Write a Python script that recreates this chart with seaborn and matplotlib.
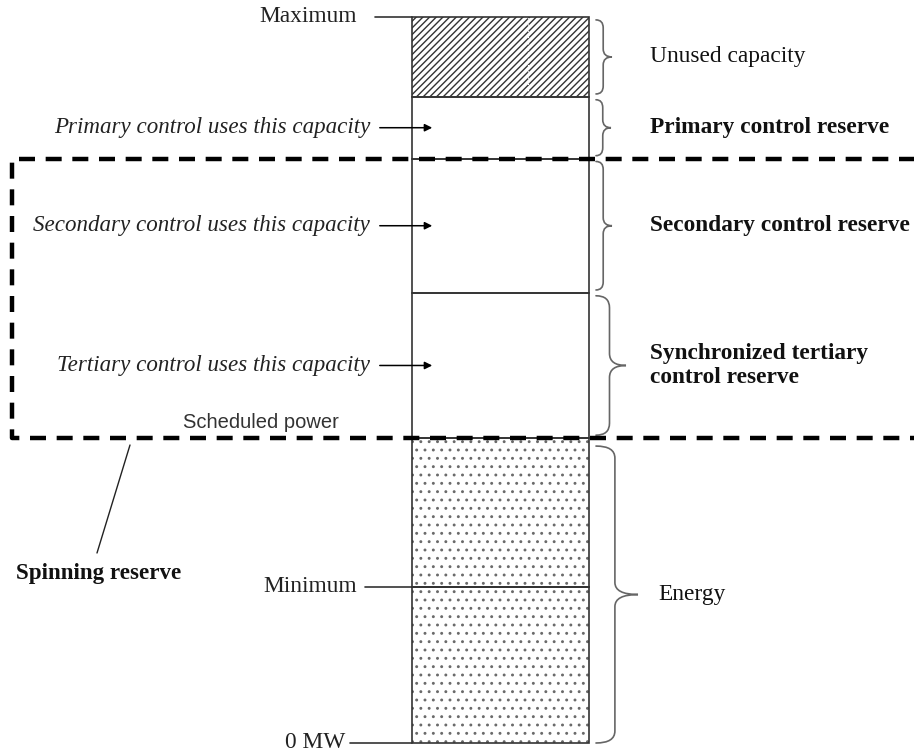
import matplotlib.pyplot as plt
import numpy as np
import seaborn as sns
from matplotlib.patches import PathPatch
from matplotlib.path import Path

# Generating unit capacity, stacked bottom -> top (% of maximum output)
segments = [
    "Energy (below minimum)",
    "Energy (above minimum)",
    "Synchronized tertiary control reserve",
    "Secondary control reserve",
    "Primary control reserve",
    "Unused capacity",
]
heights = [21.5, 20.5, 20.0, 18.5, 8.5, 11.0]
hatches = ["..", "..", "", "", "", "/////"]

# Text on the left of the column
use_labels = [
    "Tertiary control uses this capacity",
    "Secondary control uses this capacity",
    "Primary control uses this capacity",
]
level_labels = ["0 MW", "Minimum", "Maximum"]

# Braces on the right: (first segment, last segment, label, bold)
brace_groups = [
    (0, 1, "Energy", False),
    (2, 2, "Synchronized tertiary\ncontrol reserve", True),
    (3, 3, "Secondary control reserve", True),
    (4, 4, "Primary control reserve", True),
    (5, 5, "Unused capacity", False),
]

SERIF = ["Liberation Serif", "DejaVu Serif"]
SANS = ["Liberation Sans", "DejaVu Sans"]

# layout (x in pixels, y in % of max)
BAR_X, BAR_W = 500.5, 177
Y_PER_PX = 100 / 726
Y_LO = -9 * Y_PER_PX
Y_HI = 100 + 17 * Y_PER_PX


def px(y):
    return Y_HI - y * Y_PER_PX


def draw_brace(ax, x0, lo, hi, width, r_px=9):
    r = r_px * Y_PER_PX
    xm = x0 + width * 0.45
    xt = x0 + width
    mid = (lo + hi) / 2
    verts = [
        (x0, hi), (xm, hi), (xm, hi - r),
        (xm, mid + r),
        (xm, mid), (xt, mid),
        (xm, mid), (xm, mid - r),
        (xm, lo + r),
        (xm, lo), (x0, lo),
    ]
    codes = [Path.MOVETO, Path.CURVE3, Path.CURVE3, Path.LINETO,
             Path.CURVE3, Path.CURVE3, Path.CURVE3, Path.CURVE3,
             Path.LINETO, Path.CURVE3, Path.CURVE3]
    ax.add_patch(PathPatch(Path(verts, codes), fill=False, edgecolor="#666666",
                           lw=1.2, capstyle="round"))


def main():
    sns.set_theme(style="white")
    plt.rcParams["hatch.linewidth"] = 1.0

    fig = plt.figure(figsize=(9.14, 7.52), dpi=100)
    ax = fig.add_axes([0, 0, 1, 1])
    ax.set_xlim(0, 914)
    ax.set_ylim(Y_LO, Y_HI)
    ax.axis("off")

    bottoms = np.concatenate([[0], np.cumsum(heights)[:-1]])
    tops = bottoms + np.array(heights)

    # stacked column: hatch layer, then outlines
    for b, h, hatch in zip(bottoms, heights, hatches):
        bars = ax.bar(BAR_X, h, width=BAR_W, bottom=b, color="white",
                      edgecolor="#6a6a6a" if hatch == ".." else "#333333",
                      hatch=hatch, lw=0, zorder=2)
        if hatch == ".." and hasattr(bars[0], "set_hatch_linewidth"):
            bars[0].set_hatch_linewidth(0.9)
    ax.bar(BAR_X, heights, width=BAR_W, bottom=bottoms, fill=False,
           edgecolor="#333333", lw=1.2, zorder=3)
    # faint scan seam through the hatched part
    ax.plot([528, 528], [tops[4], tops[5]], color="white", lw=0.9, ls=(0, (1, 1.5)), zorder=2.5)

    # level marks on the left
    levels = [0, tops[0], tops[-1]]
    text_right = [345, 357, 357]
    line_start = [350, 365, 375]
    line_end = [BAR_X - BAR_W / 2, BAR_X + BAR_W / 2, BAR_X - BAR_W / 2]
    for lab, lv, tr, ls, le in zip(level_labels, levels, text_right, line_start, line_end):
        ax.text(tr, lv, lab, ha="right", va="center", family=SERIF, fontsize=16.8, color="#222222")
        ax.plot([ls, le], [lv, lv], color="#333333", lw=1.2, zorder=4)

    # "... uses this capacity" arrows
    for lab, i in zip(use_labels, [2, 3, 4]):
        ym = bottoms[i] + heights[i] / 2
        ax.text(370, ym, lab, ha="right", va="center", family=SERIF, style="italic",
                fontsize=16.6, color="#222222")
        ax.annotate("", xy=(435, ym), xytext=(377, ym),
                    arrowprops=dict(arrowstyle="-|>", color="black", lw=1.1, mutation_scale=11))

    # braces + labels on the right
    widths = [42, 30, 16, 15, 16]
    label_x = [658, 650, 650, 650, 650]
    for (i0, i1, lab, bold), w, lx in zip(brace_groups, widths, label_x):
        lo, hi = bottoms[i0] + 0.4, tops[i1] - 0.4
        if i0 == 0:
            lo = bottoms[i0]
            hi = tops[i1] - 1.1
        draw_brace(ax, BAR_X + BAR_W / 2 + 7, lo, hi, w, r_px=12 if w > 20 else 8)
        ax.text(lx, (lo + hi) / 2, lab, ha="left", va="center", family=SERIF,
                fontsize=16.8, fontweight="bold" if bold else "normal",
                color="#111111", linespacing=1.15)

    # spinning reserve box (secondary + tertiary)
    box_top, box_bot = tops[3], bottoms[2]
    ax.plot([930, 12, 12, 930], [box_top, box_top, box_bot, box_bot], color="black",
            lw=3.2, linestyle=(0, (3.6, 2.4)), zorder=5, solid_capstyle="butt")
    ax.text(183, px(423), "Scheduled power", ha="left", va="center", family=SANS,
            fontsize=14.5, color="#333333")
    ax.plot([97, 130], [px(553), px(445)], color="#222222", lw=1)
    ax.text(16, px(574), "Spinning reserve", ha="left", va="center", family=SERIF,
            fontsize=16.6, fontweight="bold", color="#111111")

    fig.savefig("out.png", dpi=100, facecolor="white")
    plt.close(fig)


if __name__ == "__main__":
    main()
